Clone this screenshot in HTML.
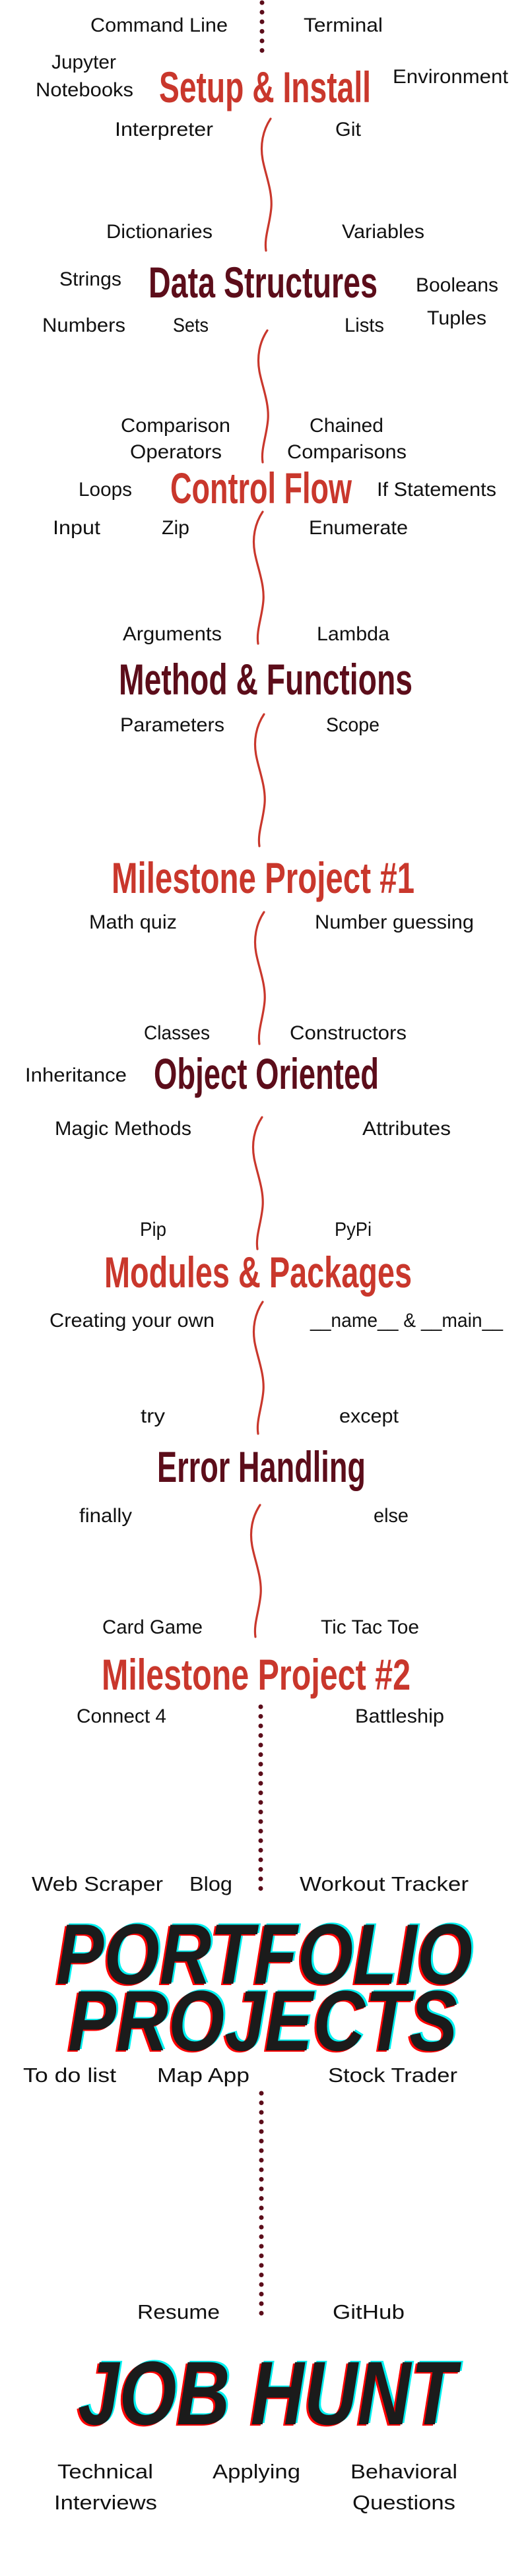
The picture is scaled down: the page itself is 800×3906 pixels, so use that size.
<!DOCTYPE html>
<html><head><meta charset="utf-8"><style>
html,body{margin:0;padding:0;background:#fff;}
svg{display:block;}
.t{font-family:"Liberation Sans",sans-serif;font-size:30px;fill:#111;}
.l{font-family:"Liberation Sans Narrow","Liberation Sans",sans-serif;font-size:31px;fill:#111;}
.h{font-family:"Liberation Sans Narrow","Liberation Sans",sans-serif;font-weight:bold;font-size:66px;}
.r{fill:#c9372c;}
.d{fill:#5c0d1a;}
.b{font-family:"Liberation Sans","DejaVu Sans",sans-serif;font-weight:bold;font-style:italic;}
</style></head><body>
<svg width="800" height="3906" viewBox="0 0 800 3906" xmlns="http://www.w3.org/2000/svg">
<defs>
<path id="w" d="M0 0 C-12 18,-16 40,-12 62 C-8 84,3 110,1 135 C-1 160,-10 180,-7 200" fill="none" stroke="#c9372c" stroke-width="3.2" stroke-linecap="round"/>
</defs>
<g stroke="#5c0d1a" stroke-width="7" stroke-linecap="round" stroke-dasharray="0 14.5">
<line x1="397" y1="4" x2="397" y2="80"/>
<line x1="395" y1="2588" x2="395" y2="2870"/>
<line x1="396" y1="3174" x2="396" y2="3516"/>
</g>
<use href="#w" transform="translate(410,180)"/>
<use href="#w" transform="translate(405,501)"/>
<use href="#w" transform="translate(398,776)"/>
<use href="#w" transform="translate(400,1083)"/>
<use href="#w" transform="translate(400,1383)"/>
<use href="#w" transform="translate(397,1694)"/>
<use href="#w" transform="translate(398,1974)"/>
<use href="#w" transform="translate(394,2282)"/>

<g class="t">
<text x="137" y="48" textLength="208" lengthAdjust="spacingAndGlyphs">Command Line</text>
<text x="460" y="48" textLength="120" lengthAdjust="spacingAndGlyphs">Terminal</text>
<text x="78" y="104" textLength="98" lengthAdjust="spacingAndGlyphs">Jupyter</text>
<text x="54" y="146" textLength="148" lengthAdjust="spacingAndGlyphs">Notebooks</text>
<text x="595" y="126" textLength="175" lengthAdjust="spacingAndGlyphs">Environment</text>
<text x="174" y="206" textLength="149" lengthAdjust="spacingAndGlyphs">Interpreter</text>
<text x="508" y="206" textLength="39" lengthAdjust="spacingAndGlyphs">Git</text>
<text x="161" y="361" textLength="161" lengthAdjust="spacingAndGlyphs">Dictionaries</text>
<text x="518" y="361" textLength="125" lengthAdjust="spacingAndGlyphs">Variables</text>
<text x="90" y="433" textLength="94" lengthAdjust="spacingAndGlyphs">Strings</text>
<text x="630" y="442" textLength="125" lengthAdjust="spacingAndGlyphs">Booleans</text>
<text x="647" y="492" textLength="90" lengthAdjust="spacingAndGlyphs">Tuples</text>
<text x="64" y="503" textLength="126" lengthAdjust="spacingAndGlyphs">Numbers</text>
<text x="262" y="503" textLength="54" lengthAdjust="spacingAndGlyphs">Sets</text>
<text x="522" y="503" textLength="60" lengthAdjust="spacingAndGlyphs">Lists</text>
<text x="183" y="655" textLength="166" lengthAdjust="spacingAndGlyphs">Comparison</text>
<text x="197" y="695" textLength="139" lengthAdjust="spacingAndGlyphs">Operators</text>
<text x="469" y="655" textLength="112" lengthAdjust="spacingAndGlyphs">Chained</text>
<text x="435" y="695" textLength="181" lengthAdjust="spacingAndGlyphs">Comparisons</text>
<text x="119" y="752" textLength="81" lengthAdjust="spacingAndGlyphs">Loops</text>
<text x="571" y="752" textLength="181" lengthAdjust="spacingAndGlyphs">If Statements</text>
<text x="80" y="810" textLength="72" lengthAdjust="spacingAndGlyphs">Input</text>
<text x="245" y="810" textLength="42" lengthAdjust="spacingAndGlyphs">Zip</text>
<text x="468" y="810" textLength="150" lengthAdjust="spacingAndGlyphs">Enumerate</text>
<text x="186" y="971" textLength="150" lengthAdjust="spacingAndGlyphs">Arguments</text>
<text x="480" y="971" textLength="110" lengthAdjust="spacingAndGlyphs">Lambda</text>
<text x="182" y="1109" textLength="158" lengthAdjust="spacingAndGlyphs">Parameters</text>
<text x="494" y="1109" textLength="81" lengthAdjust="spacingAndGlyphs">Scope</text>
<text x="135" y="1408" textLength="133" lengthAdjust="spacingAndGlyphs">Math quiz</text>
<text x="477" y="1408" textLength="241" lengthAdjust="spacingAndGlyphs">Number guessing</text>
<text x="218" y="1576" textLength="100" lengthAdjust="spacingAndGlyphs">Classes</text>
<text x="439" y="1576" textLength="177" lengthAdjust="spacingAndGlyphs">Constructors</text>
<text x="38" y="1640" textLength="154" lengthAdjust="spacingAndGlyphs">Inheritance</text>
<text x="83" y="1721" textLength="207" lengthAdjust="spacingAndGlyphs">Magic Methods</text>
<text x="549" y="1721" textLength="134" lengthAdjust="spacingAndGlyphs">Attributes</text>
<text x="212" y="1874" textLength="40" lengthAdjust="spacingAndGlyphs">Pip</text>
<text x="507" y="1874" textLength="56" lengthAdjust="spacingAndGlyphs">PyPi</text>
<text x="75" y="2012" textLength="250" lengthAdjust="spacingAndGlyphs">Creating your own</text>
<text x="470" y="2012" textLength="292" lengthAdjust="spacingAndGlyphs">__name__ &amp; __main__</text>
<text x="213" y="2157" textLength="37" lengthAdjust="spacingAndGlyphs">try</text>
<text x="514" y="2157" textLength="90" lengthAdjust="spacingAndGlyphs">except</text>
<text x="120" y="2308" textLength="80" lengthAdjust="spacingAndGlyphs">finally</text>
<text x="566" y="2308" textLength="53" lengthAdjust="spacingAndGlyphs">else</text>
<text x="155" y="2477" textLength="152" lengthAdjust="spacingAndGlyphs">Card Game</text>
<text x="486" y="2477" textLength="149" lengthAdjust="spacingAndGlyphs">Tic Tac Toe</text>
<text x="116" y="2612" textLength="136" lengthAdjust="spacingAndGlyphs">Connect 4</text>
<text x="538" y="2612" textLength="135" lengthAdjust="spacingAndGlyphs">Battleship</text>
</g>

<g class="l">
<text x="48" y="2867" textLength="199" lengthAdjust="spacingAndGlyphs">Web Scraper</text>
<text x="287" y="2867" textLength="65" lengthAdjust="spacingAndGlyphs">Blog</text>
<text x="454" y="2867" textLength="256" lengthAdjust="spacingAndGlyphs">Workout Tracker</text>
<text x="35" y="3157" textLength="141" lengthAdjust="spacingAndGlyphs">To do list</text>
<text x="238" y="3157" textLength="140" lengthAdjust="spacingAndGlyphs">Map App</text>
<text x="497" y="3157" textLength="196" lengthAdjust="spacingAndGlyphs">Stock Trader</text>
<text x="208" y="3516" textLength="125" lengthAdjust="spacingAndGlyphs">Resume</text>
<text x="504" y="3516" textLength="109" lengthAdjust="spacingAndGlyphs">GitHub</text>
<text x="87" y="3758" textLength="145" lengthAdjust="spacingAndGlyphs">Technical</text>
<text x="82" y="3805" textLength="156" lengthAdjust="spacingAndGlyphs">Interviews</text>
<text x="322" y="3758" textLength="133" lengthAdjust="spacingAndGlyphs">Applying</text>
<text x="531" y="3758" textLength="162" lengthAdjust="spacingAndGlyphs">Behavioral</text>
<text x="534" y="3805" textLength="156" lengthAdjust="spacingAndGlyphs">Questions</text>
</g>

<g class="h">
<text class="r" x="241" y="155" textLength="321" lengthAdjust="spacingAndGlyphs">Setup &amp; Install</text>
<text class="d" x="225" y="451" textLength="347" lengthAdjust="spacingAndGlyphs">Data Structures</text>
<text class="r" x="258" y="763" textLength="275" lengthAdjust="spacingAndGlyphs">Control Flow</text>
<text class="d" x="180" y="1053" textLength="445" lengthAdjust="spacingAndGlyphs">Method &amp; Functions</text>
<text class="r" x="169" y="1354" textLength="459" lengthAdjust="spacingAndGlyphs">Milestone Project #1</text>
<text class="d" x="233" y="1651" textLength="341" lengthAdjust="spacingAndGlyphs">Object Oriented</text>
<text class="r" x="158" y="1952" textLength="466" lengthAdjust="spacingAndGlyphs">Modules &amp; Packages</text>
<text class="d" x="238" y="2247" textLength="316" lengthAdjust="spacingAndGlyphs">Error Handling</text>
<text class="r" x="154" y="2562" textLength="468" lengthAdjust="spacingAndGlyphs">Milestone Project #2</text>
</g>

<g class="b" font-size="130">
<text x="88" y="3006" textLength="631" lengthAdjust="spacingAndGlyphs" fill="#00f0f0">PORTFOLIO</text>
<text x="82" y="3010" textLength="631" lengthAdjust="spacingAndGlyphs" fill="#ff0000">PORTFOLIO</text>
<text x="85" y="3008" textLength="631" lengthAdjust="spacingAndGlyphs" fill="#1b1b1b">PORTFOLIO</text>
<text x="106" y="3107" textLength="590" lengthAdjust="spacingAndGlyphs" fill="#00f0f0">PROJECTS</text>
<text x="100" y="3111" textLength="590" lengthAdjust="spacingAndGlyphs" fill="#ff0000">PROJECTS</text>
<text x="103" y="3109" textLength="590" lengthAdjust="spacingAndGlyphs" fill="#1b1b1b">PROJECTS</text>
</g>
<g class="b" font-size="137">
<text x="121" y="3674" textLength="573" lengthAdjust="spacingAndGlyphs" fill="#00f0f0">JOB HUNT</text>
<text x="115" y="3678" textLength="573" lengthAdjust="spacingAndGlyphs" fill="#ff0000">JOB HUNT</text>
<text x="118" y="3676" textLength="573" lengthAdjust="spacingAndGlyphs" fill="#1b1b1b">JOB HUNT</text>
</g>
</svg>
</body></html>
